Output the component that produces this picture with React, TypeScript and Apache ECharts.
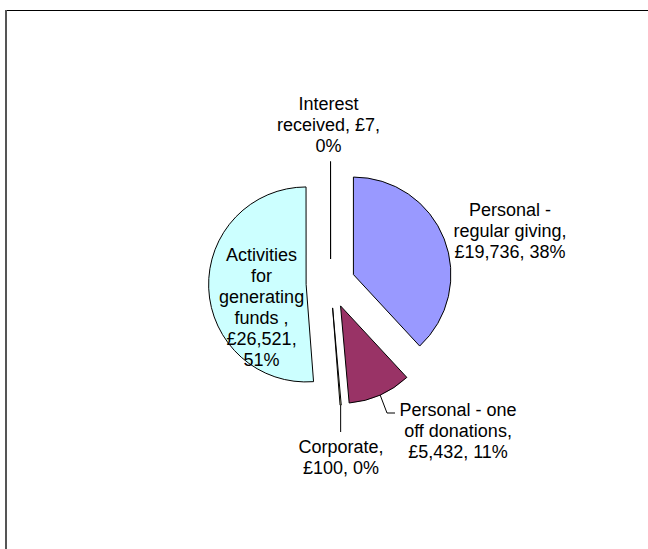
import React, { useEffect, useRef } from "react";
import * as echarts from "echarts";

// Category names (line breaks as in the chart labels)
const categories = [
  "Personal -\nregular giving",
  "Personal - one\noff donations",
  "Corporate",
  "Activities\nfor\ngenerating\nfunds ",
  "Interest\nreceived",
];
const values = [19736, 5432, 100, 26521, 7];
const colors = ["#9999FF", "#993366", "#FFFFCC", "#CCFFFF", "#660066"];

// Layout / presentation
const CENTER = [330.6, 283.5];
const RADIUS = 97.5;
const EXPLODE = 24.5;
const FONT = 18;
const LINE_H = 21;
const SEP_NAME = [",\n", ",\n", ",\n", ",\n", ", "];
const SEP_VALUE = [", ", ", ", ", ", ",\n", ",\n"];
const LABEL_POS = [
  [510, 230.5],
  [458, 431],
  [341, 457],
  [261.6, 307.8],
  [328.5, 124.5],
];
const SHOW_LINE = [false, true, true, false, false];

const total = values.reduce((a, b) => a + b, 0);

function midAngle(i: number) {
  let cum = 0;
  for (let j = 0; j < i; j++) cum += values[j];
  return ((cum + values[i] / 2) / total) * Math.PI * 2;
}

export default function App() {
  const ref = useRef<HTMLDivElement>(null);
  useEffect(() => {
    if (!ref.current) return;
    const chart = echarts.init(ref.current, undefined, { renderer: "svg" });
    const fmt = (v: number) => v.toLocaleString("en-US");
    const common = {
      type: "pie",
      center: CENTER,
      radius: RADIUS,
      startAngle: 90,
      clockwise: true,
      avoidLabelOverlap: false,
      percentPrecision: 0,
      minShowLabelAngle: 0,
      emphasis: { disabled: true },
    };
    chart.setOption({
      animation: false,
      backgroundColor: "#ffffff",
      graphic: [
        {
          type: "line",
          shape: { x1: 5, y1: 10.5, x2: 648, y2: 10.5 },
          style: { stroke: "#000", lineWidth: 1 },
          silent: true,
        },
        {
          type: "line",
          shape: { x1: 6, y1: 10, x2: 6, y2: 549 },
          style: { stroke: "#555", lineWidth: 2 },
          silent: true,
        },
      ],
      series: [
        {
          ...common,
          name: "slices",
          selectedMode: "multiple",
          selectedOffset: EXPLODE,
          itemStyle: { borderColor: "#000", borderWidth: 1 },
          select: { itemStyle: { borderColor: "#000", borderWidth: 1 } },
          label: { show: false },
          labelLine: { show: false },
          data: categories.map((name, i) => ({
            name,
            value: values[i],
            selected: true,
            itemStyle: { color: colors[i] },
          })),
        },
        {
          ...common,
          name: "labels",
          silent: true,
          selectedMode: false,
          itemStyle: { color: "rgba(0,0,0,0)", borderWidth: 0 },
          label: {
            show: true,
            position: "outside",
            color: "#000",
            fontSize: FONT,
            lineHeight: LINE_H,
            fontFamily: "'Liberation Sans', Arial, sans-serif",
            align: "center",
            formatter: (p: any) =>
              `${p.name}${SEP_NAME[p.dataIndex]}£${fmt(p.value)}${SEP_VALUE[p.dataIndex]}${p.percent}%`,
          },
          labelLine: {
            show: true,
            lineStyle: { color: "#000", width: 1 },
          },
          labelLayout: (p: any) => {
            const i = p.dataIndex;
            const [lx, ly] = LABEL_POS[i];
            const res: any = { x: lx, y: ly, align: "center", verticalAlign: "middle" };
            const a = midAngle(i);
            const rr = EXPLODE + RADIUS;
            const ax = CENTER[0] + rr * Math.sin(a);
            const ay = CENTER[1] - rr * Math.cos(a);
            if (i === 1) {
              const lineY = ly - LINE_H + 3;
              res.labelLinePoints = [
                [ax, ay],
                [lx - 71, lineY],
                [lx - 63, lineY],
              ];
            } else if (i === 2) {
              res.labelLinePoints = [
                [ax, ay],
                [ax, ly - 25],
                [ax, ly - 25],
              ];
            }
            return res;
          },
          data: categories.map((name, i) => ({
            name,
            value: values[i],
            labelLine: { show: SHOW_LINE[i] },
          })),
        },
      ],
    });
    return () => chart.dispose();
  }, []);
  return (
    <div
      ref={ref}
      style={{ position: "fixed", left: 0, top: 0, width: 648, height: 549, background: "#fff" }}
    />
  );
}
